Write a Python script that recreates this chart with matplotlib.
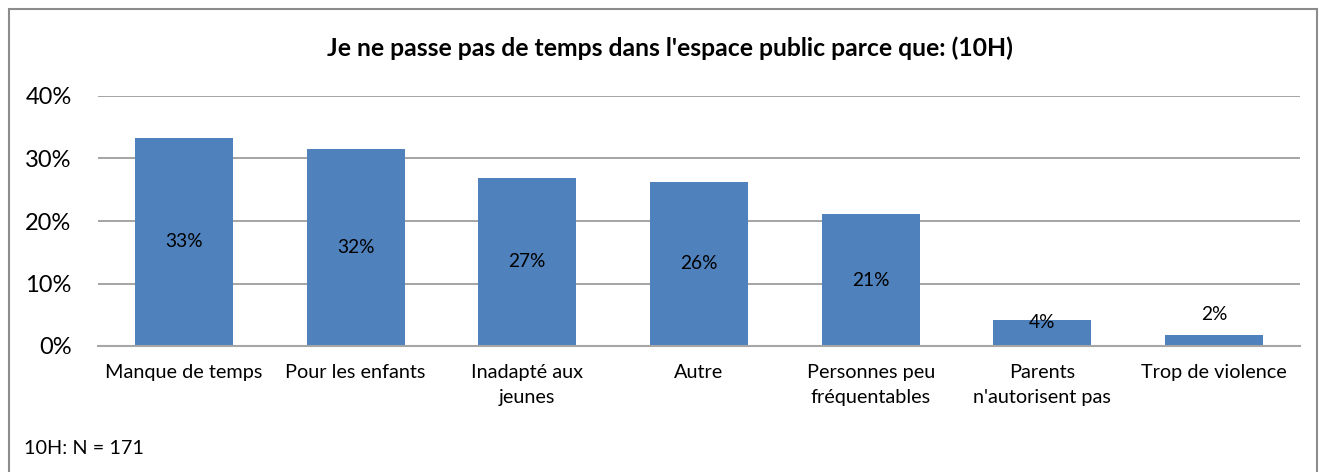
import matplotlib
matplotlib.use('Agg')
import matplotlib.pyplot as plt
from matplotlib.patches import Rectangle
import numpy as np

# survey 10H, N = 171
categories = ['Manque de temps', 'Pour les enfants', 'Inadapté aux\njeunes', 'Autre',
              'Personnes peu\nfréquentables', 'Parents\nn\'autorisent pas', 'Trop de violence']
counts = [57, 54, 46, 45, 36, 7, 3]
n_total = 171
values = [100.0 * c / n_total for c in counts]
yticks = [0, 10, 20, 30, 40]

title = "Je ne passe pas de temps dans l'espace public parce que: (10H)"
note = '10H: N = 171'

plt.rcParams['font.family'] = ['Lato', 'DejaVu Sans']

W, H = 1319, 472
fig = plt.figure(figsize=(W / 100, H / 100), dpi=100)
ax = fig.add_axes([98 / W, 1 - 346 / H, (1300 - 98) / W, (346 - 96) / H])

x = np.arange(len(categories))
bars = ax.bar(x, values, width=0.57, color='#4F81BD', zorder=3)

ax.set_xlim(-0.5, len(categories) - 0.5)
ax.set_ylim(0, 40)
ax.set_yticks(yticks)
ax.set_yticklabels(['{}%'.format(t) for t in yticks], fontsize=17)
ax.set_xticks(x)
ax.set_xticklabels(categories, fontsize=14.3, linespacing=1.55, va='top')
ax.tick_params(axis='both', length=0, colors='black')
ax.tick_params(axis='y', pad=19)
ax.tick_params(axis='x', pad=13)

ax.grid(axis='y', color='#8c8c8c', linewidth=1.1, zorder=0)
for s in ['top', 'right', 'left']:
    ax.spines[s].set_visible(False)
ax.spines['bottom'].set_color('#a6a6a6')
ax.spines['bottom'].set_linewidth(1.5)
ax.spines['bottom'].set_zorder(4)

# value labels: centred in tall bars, pushed up for the short ones
for xi, v in zip(x, values):
    txt = '{:.0f}%'.format(v)
    if v > 10:
        ax.text(xi, v / 2, txt, ha='center', va='center', fontsize=13.8, zorder=5)
    elif v > 3:
        ax.text(xi, v - 0.4, txt, ha='center', va='center', fontsize=13.8, zorder=5)
    else:
        ax.text(xi, v + 3.3, txt, ha='center', va='center', fontsize=13.8, zorder=5)

fig.text(670 / W, 1 - 48 / H, title, ha='center', va='center', fontsize=17.8, fontweight='bold')
fig.text(24 / W, 1 - 448 / H, note, ha='left', va='center', fontsize=14.3)

# chart frame
fig.patches.append(Rectangle((9 / W, -0.05), (1317 - 9) / W, 1.05 - 9 / H,
                             transform=fig.transFigure, fill=False,
                             edgecolor='#8c8c8c', linewidth=1.5))

fig.savefig('out.png', dpi=100)
